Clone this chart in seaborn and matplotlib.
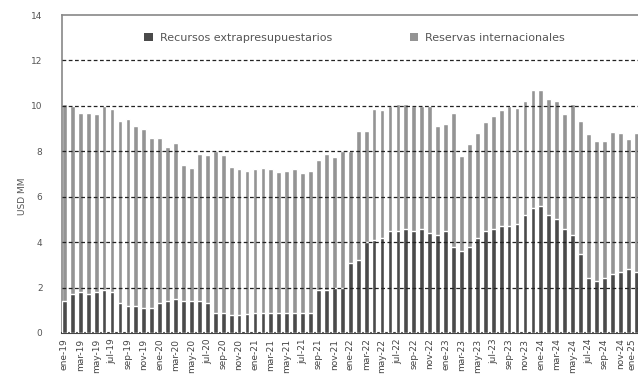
import matplotlib
matplotlib.use("Agg")
import matplotlib.pyplot as plt
from matplotlib.patches import Patch
import seaborn as sns

# Monthly series, ene-19 onward (USD MM)
meses = ["ene", "feb", "mar", "abr", "may", "jun",
         "jul", "ago", "sep", "oct", "nov", "dic"]
anios = ["19", "20", "21", "22", "23", "24", "25"]
n_meses = 73

recursos_extrapresupuestarios = [
    1.4, 1.7, 1.8, 1.7, 1.8, 1.9, 1.8, 1.3, 1.2, 1.2, 1.1, 1.1,
    1.3, 1.4, 1.5, 1.4, 1.4, 1.4, 1.3, 0.9, 0.9, 0.8, 0.8, 0.85,
    0.9, 0.9, 0.9, 0.9, 0.9, 0.9, 0.9, 0.9, 1.9, 1.9, 2.0, 2.0,
    3.1, 3.2, 4.0, 4.1, 4.2, 4.5, 4.5, 4.6, 4.5, 4.6, 4.4, 4.3,
    4.5, 3.8, 3.6, 3.8, 4.2, 4.5, 4.6, 4.7, 4.7, 4.8, 5.2, 5.5,
    5.6, 5.2, 5.0, 4.6, 4.3, 3.5, 2.4, 2.3, 2.4, 2.6, 2.7, 2.8,
    2.7,
]
reservas_internacionales = [
    8.7, 8.3, 7.9, 8.0, 7.85, 8.1, 8.05, 8.05, 8.2, 7.9, 7.9, 7.5,
    7.3, 6.8, 6.85, 6.0, 5.85, 6.5, 6.55, 7.1, 6.95, 6.5, 6.4, 6.3,
    6.3, 6.35, 6.3, 6.2, 6.25, 6.3, 6.15, 6.25, 5.7, 6.0, 5.75, 6.0,
    4.9, 5.7, 4.9, 5.75, 5.6, 5.5, 5.6, 5.5, 5.5, 5.4, 5.6, 4.8,
    4.7, 5.9, 4.2, 4.5, 4.6, 4.8, 4.95, 5.1, 5.3, 5.1, 5.0, 5.2,
    5.1, 5.1, 5.2, 5.05, 5.8, 5.85, 6.35, 6.15, 6.05, 6.25, 6.1, 5.75,
    6.1,
]

etiquetas = [f"{meses[i % 12]}-{anios[i // 12]}" for i in range(n_meses)]
totales = [a + b for a, b in zip(recursos_extrapresupuestarios,
                                 reservas_internacionales)]

sns.set_theme(style="white")
plt.rcParams["font.family"] = ["DejaVu Sans"]

color_claro = "#949494"
color_oscuro = "#4a4a4a"
color_texto = "#555555"

fig = plt.figure(figsize=(6.38, 3.88), dpi=100)
ax = fig.add_axes([62 / 638, 55 / 388, 590 / 638, 318 / 388])

sns.barplot(x=etiquetas, y=totales, color=color_claro, width=0.6,
            saturation=1, ax=ax, zorder=2)
sns.barplot(x=etiquetas, y=recursos_extrapresupuestarios, color=color_oscuro,
            width=0.6, saturation=1, ax=ax, zorder=3)

ax.set_xlim(-0.3, 74)
ax.set_ylim(0, 14)
ax.set_yticks(range(0, 15, 2))
ax.set_yticklabels([str(v) for v in range(0, 15, 2)], fontsize=6.5,
                   color=color_texto)
ax.set_xticks(range(0, n_meses, 2))
ax.set_xticklabels(etiquetas[::2], rotation=90, fontsize=6.5,
                   color="#444444")
ax.tick_params(axis="y", length=0, pad=14)
ax.tick_params(axis="x", length=0, pad=4)
# keep the last month label inside the canvas
ax.get_xticklabels()[-1].set_horizontalalignment("right")
ax.set_xlabel("")
ax.set_ylabel("USD MM", fontsize=6.5, color=color_texto)
ax.yaxis.set_label_coords(-0.06, 0.43)

# Dashed reference lines drawn over the bars
for v in range(2, 14, 2):
    ax.axhline(v, color="#222222", linestyle=(0, (3, 2)), linewidth=0.9,
               zorder=4)

for lado in ["top", "left"]:
    ax.spines[lado].set_color("#888888")
    ax.spines[lado].set_linewidth(1.2)
ax.spines["bottom"].set_color("#444444")
ax.spines["bottom"].set_linewidth(1.5)
ax.spines["right"].set_visible(False)

manijas = [Patch(facecolor=color_oscuro, edgecolor="none"),
           Patch(facecolor=color_claro, edgecolor="none")]
leg = ax.legend(manijas, ["Recursos extrapresupuestarios",
                          "Reservas internacionales"],
                loc="center left", bbox_to_anchor=(134 / 638, 350 / 388),
                bbox_transform=fig.transFigure, ncol=2, frameon=False,
                fontsize=8, handlelength=0.8, handleheight=0.8,
                handletextpad=0.6, columnspacing=7.0)
for t in leg.get_texts():
    t.set_color(color_texto)

fig.savefig("out.png", dpi=100)
